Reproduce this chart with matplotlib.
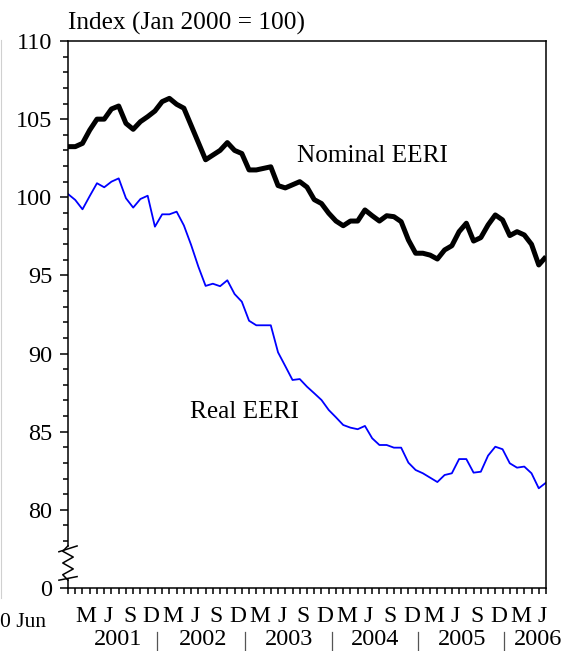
import numpy as np
import matplotlib
matplotlib.use("Agg")
import matplotlib.pyplot as plt
import matplotlib.transforms as mtransforms
from matplotlib.lines import Line2D

plt.rcParams["font.family"] = ["Liberation Serif", "DejaVu Serif"]

# Monthly index values, Jan 2001 onwards (Jan 2000 = 100)
nominal_eeri = [
    103.24, 103.24, 103.45, 104.30, 105.00, 105.00, 105.65, 105.84, 104.73, 104.35,
    104.84, 105.16, 105.52, 106.12, 106.33, 105.95, 105.70, 104.60, 103.50, 102.40,
    102.70, 103.00, 103.50, 103.00, 102.80, 101.75, 101.75, 101.85, 101.95, 100.75,
    100.60, 100.80, 101.00, 100.65, 99.85, 99.60, 98.98, 98.48, 98.18, 98.48,
    98.48, 99.19, 98.82, 98.48, 98.82, 98.76, 98.44, 97.27, 96.42, 96.42,
    96.30, 96.05, 96.63, 96.90, 97.80, 98.34, 97.20, 97.42, 98.23, 98.87,
    98.55, 97.55, 97.80, 97.59, 96.99, 95.67, 96.20,
]
real_eeri = [
    100.21, 99.83, 99.23, 100.08, 100.90, 100.64, 101.00, 101.21, 99.94, 99.34,
    99.89, 100.10, 98.12, 98.91, 98.91, 99.08, 98.20, 96.95, 95.56, 94.33,
    94.47, 94.31, 94.69, 93.81, 93.32, 92.10, 91.81, 91.81, 91.81, 90.08,
    89.20, 88.31, 88.37, 87.88, 87.46, 87.03, 86.39, 85.92, 85.43, 85.26,
    85.16, 85.37, 84.58, 84.15, 84.15, 83.98, 83.98, 83.02, 82.55, 82.34,
    82.06, 81.78, 82.23, 82.34, 83.25, 83.25, 82.38, 82.44, 83.47, 84.04,
    83.88, 82.98, 82.70, 82.77, 82.34, 81.38, 81.74,
]

month_letters = ["M", "J", "S", "D"] * 5 + ["M", "J"]
years = ["2001", "2002", "2003", "2004", "2005", "2006"]
ytick_values = [75, 80, 85, 90, 95, 100, 105, 110]
ytick_labels = ["0", "80", "85", "90", "95", "100", "105", "110"]

months = np.arange(len(nominal_eeri))

W, H = 569, 651
fig = plt.figure(figsize=(W / 100, H / 100), dpi=100)
ax = fig.add_axes([68 / W, 1 - 588 / H, 478 / W, 547 / H])

ax.plot(months, real_eeri, color="#0000ff", lw=1.3, solid_joinstyle="round")
ax.plot(months, nominal_eeri, color="black", lw=3.6, solid_joinstyle="round",
        solid_capstyle="butt")

ax.set_xlim(0, 66)
ax.set_ylim(75, 110)

for s in ("top", "right", "bottom"):
    ax.spines[s].set_linewidth(1.1)
ax.spines["left"].set_visible(False)

# y axis: ticks outward, broken between 0 and 78
ax.set_yticks(ytick_values, ytick_labels)
ax.set_yticks([v for v in range(78, 110) if v % 5], minor=True)
ax.tick_params(axis="y", which="major", direction="out", length=5.8, width=1.1,
               pad=5.5, labelsize=17.5)
ax.tick_params(axis="y", which="minor", direction="out", length=3.6, width=1.1)

# x axis: monthly ticks, quarter letters centred in the month
ax.set_xticks(np.arange(0, 67))
ax.set_xticks([2.5 + 3 * k for k in range(len(month_letters))], month_letters, minor=True)
ax.tick_params(axis="x", which="major", direction="out", length=4.3, width=1.1,
               labelbottom=False)
ax.tick_params(axis="x", which="minor", length=0, pad=13, labelsize=17)

# left axis line with the break symbol
tb = mtransforms.blended_transform_factory(ax.transAxes, ax.transData)
lk = dict(transform=tb, clip_on=False, color="black", lw=1.1)
ax.plot([0, 0], [77.7, 110], **lk)
ax.plot([0, 0], [75, 75.5], **lk)
ax.plot([0, -0.011, 0.011, -0.011, 0.011, -0.011, 0],
        [77.7, 77.35, 76.98, 76.6, 76.22, 75.85, 75.5], **lk)
ax.plot([-0.019, 0.019], [77.32, 77.69], **lk)
ax.plot([-0.019, 0.019], [75.5, 75.73], **lk)

# year labels and separators
tx = mtransforms.blended_transform_factory(ax.transData, ax.transAxes)
for x, lab in zip([6.9, 18.6, 30.5, 42.4, 54.4, 64.9], years):
    ax.text(x, -0.105, lab, transform=tx, ha="center", va="baseline", fontsize=17.5)
for x in [12.3, 24.4, 36.5, 48.3, 60.2]:
    ax.plot([x, x], [-0.08, -0.113], transform=tx, clip_on=False, color="#555555", lw=0.9)

# series labels
ax.text(31.6, 102.26, "Nominal EERI", va="baseline", fontsize=18.2)
ax.text(16.85, 85.86, "Real EERI", va="baseline", fontsize=18.2)

fig.text(68 / W, 1 - 30 / H, "Index (Jan 2000 = 100)", va="baseline", fontsize=18.3)
fig.text(0, 1 - 626.7 / H, "0 Jun", va="baseline", fontsize=15.5)
fig.add_artist(Line2D([1 / W, 1 / W], [1 - 598 / H, 1 - 40 / H], color="#d0d0d0", lw=0.8))

fig.savefig("out.png", dpi=100)
